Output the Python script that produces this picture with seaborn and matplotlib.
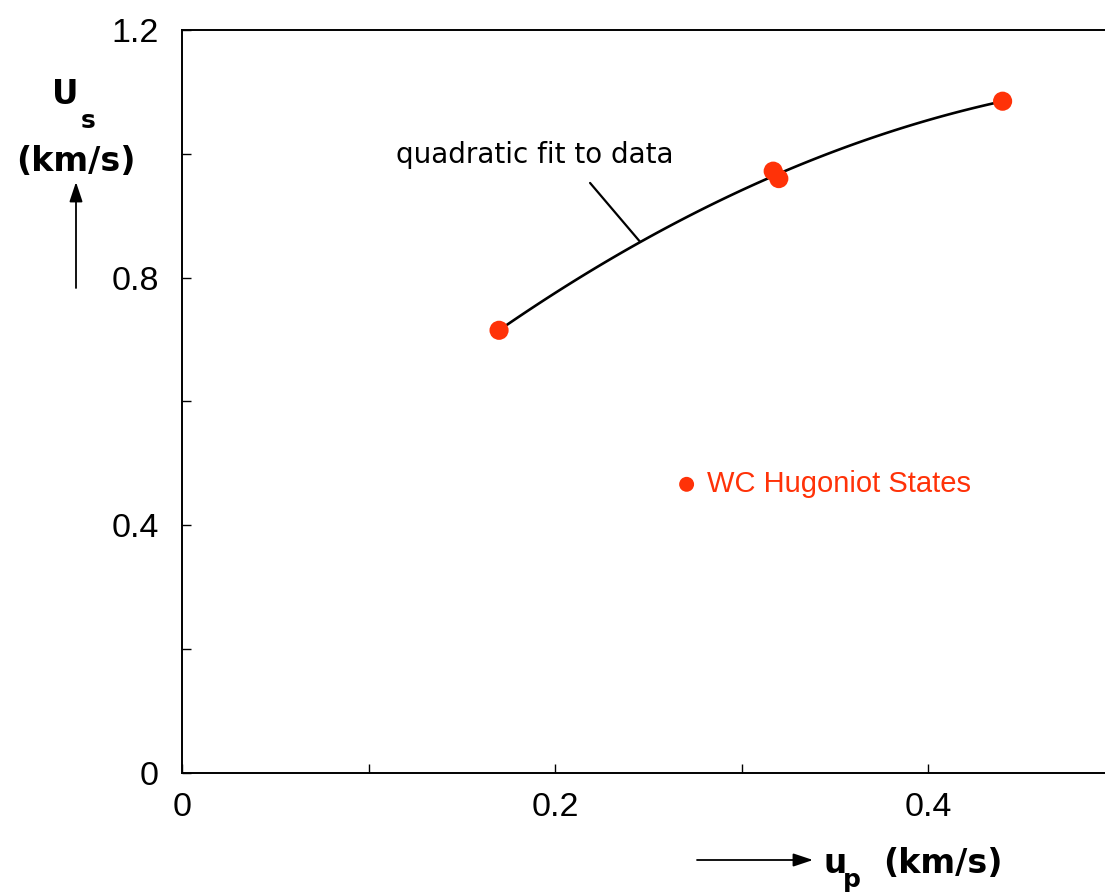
import matplotlib
matplotlib.use("Agg")
import matplotlib.pyplot as plt
import seaborn as sns
import pandas as pd

# Shock-velocity / particle-velocity Hugoniot data for WC
up_kms = [0.170, 0.317, 0.320, 0.440]
Us_kms = [0.715, 0.972, 0.960, 1.085]

x_ticks = [0.0, 0.1, 0.2, 0.3, 0.4, 0.5]
x_tick_labels = ["0", "", "0.2", "", "0.4", ""]
y_ticks = [0.0, 0.2, 0.4, 0.6, 0.8, 1.0, 1.2]
y_tick_labels = ["0", "", "0.4", "", "0.8", "", "1.2"]

series_label = "WC Hugoniot States"
fit_label = "quadratic fit to data"

RED = "#FF3208"

sns.set_theme(style="ticks")
plt.rcParams["font.family"] = ["Liberation Sans", "DejaVu Sans"]

df = pd.DataFrame({"up": up_kms, "Us": Us_kms})

W, H = 1105, 894
fig = plt.figure(figsize=(W / 100, H / 100), dpi=100)
ax = fig.add_axes([182 / W, 121 / H, 932.5 / W, 743 / H])

# quadratic fit through the measured states
sns.regplot(data=df, x="up", y="Us", order=2, ci=None, scatter=False,
            truncate=True, ax=ax, line_kws=dict(color="black", lw=1.9))
sns.scatterplot(data=df, x="up", y="Us", ax=ax, color=RED, s=190,
                edgecolor="none", label=series_label, legend=False, zorder=5)

ax.set_xlim(0, 0.5)
ax.set_ylim(0, 1.2)
ax.set_xticks(x_ticks)
ax.set_xticklabels(x_tick_labels)
ax.set_yticks(y_ticks)
ax.set_yticklabels(y_tick_labels)
ax.set_xlabel("")
ax.set_ylabel("")
ax.tick_params(direction="in", length=6.5, width=1.0, labelsize=24.5,
               colors="black")
ax.tick_params(axis="y", pad=16.5)
ax.tick_params(axis="x", pad=14)
for side in ("left", "bottom", "top"):
    ax.spines[side].set_linewidth(1.4)
    ax.spines[side].set_color("black")
ax.spines["right"].set_visible(False)

# fit annotation with leader line
ax.text(0.1893, 0.9855, fit_label, ha="center", va="baseline",
        fontsize=20, color="black", family="DejaVu Sans")
ax.annotate("", xy=(0.2456, 0.858), xytext=(0.2188, 0.953),
            arrowprops=dict(arrowstyle="-", color="black", lw=1.6,
                            shrinkA=0, shrinkB=0))

# key for the data points
leg = ax.legend(handles=ax.collections[-1:], labels=[series_label],
                loc="center left", bbox_to_anchor=(0.5255, 0.389),
                frameon=False, fontsize=21, markerscale=0.78,
                handlelength=1.0, handletextpad=0.2, borderpad=0,
                borderaxespad=0, scatterpoints=1)
for t in leg.get_texts():
    t.set_color(RED)

# axis titles with direction arrows
bold = dict(fontweight="bold", color="black", family="DejaVu Sans")
head = "-|>,head_length=0.75,head_width=0.25"
fig.text(65 / W, 1 - 104 / H, "U", ha="center", va="baseline", fontsize=23.5, **bold)
fig.text(88 / W, 1 - 128 / H, "s", ha="center", va="baseline", fontsize=18, **bold)
fig.text(76 / W, 1 - 171 / H, "(km/s)", ha="center", va="baseline", fontsize=24, **bold)
fig.add_artist(plt.Annotation("", xy=(76 / W, 1 - 182 / H), xytext=(76 / W, 1 - 288 / H),
                              xycoords="figure fraction", textcoords="figure fraction",
                              arrowprops=dict(arrowstyle=head, color="black", lw=1.3,
                                              mutation_scale=16, shrinkA=0, shrinkB=0)))

fig.text(835 / W, 1 - 873 / H, "u", ha="center", va="baseline", fontsize=23.5, **bold)
fig.text(852 / W, 1 - 887 / H, "p", ha="center", va="baseline", fontsize=18, **bold)
fig.text(943 / W, 1 - 873 / H, "(km/s)", ha="center", va="baseline", fontsize=24, **bold)
fig.add_artist(plt.Annotation("", xy=(813 / W, 1 - 860 / H), xytext=(697 / W, 1 - 860 / H),
                              xycoords="figure fraction", textcoords="figure fraction",
                              arrowprops=dict(arrowstyle=head, color="black", lw=1.3,
                                              mutation_scale=16, shrinkA=0, shrinkB=0)))

fig.savefig("out.png", dpi=100, facecolor="white")
